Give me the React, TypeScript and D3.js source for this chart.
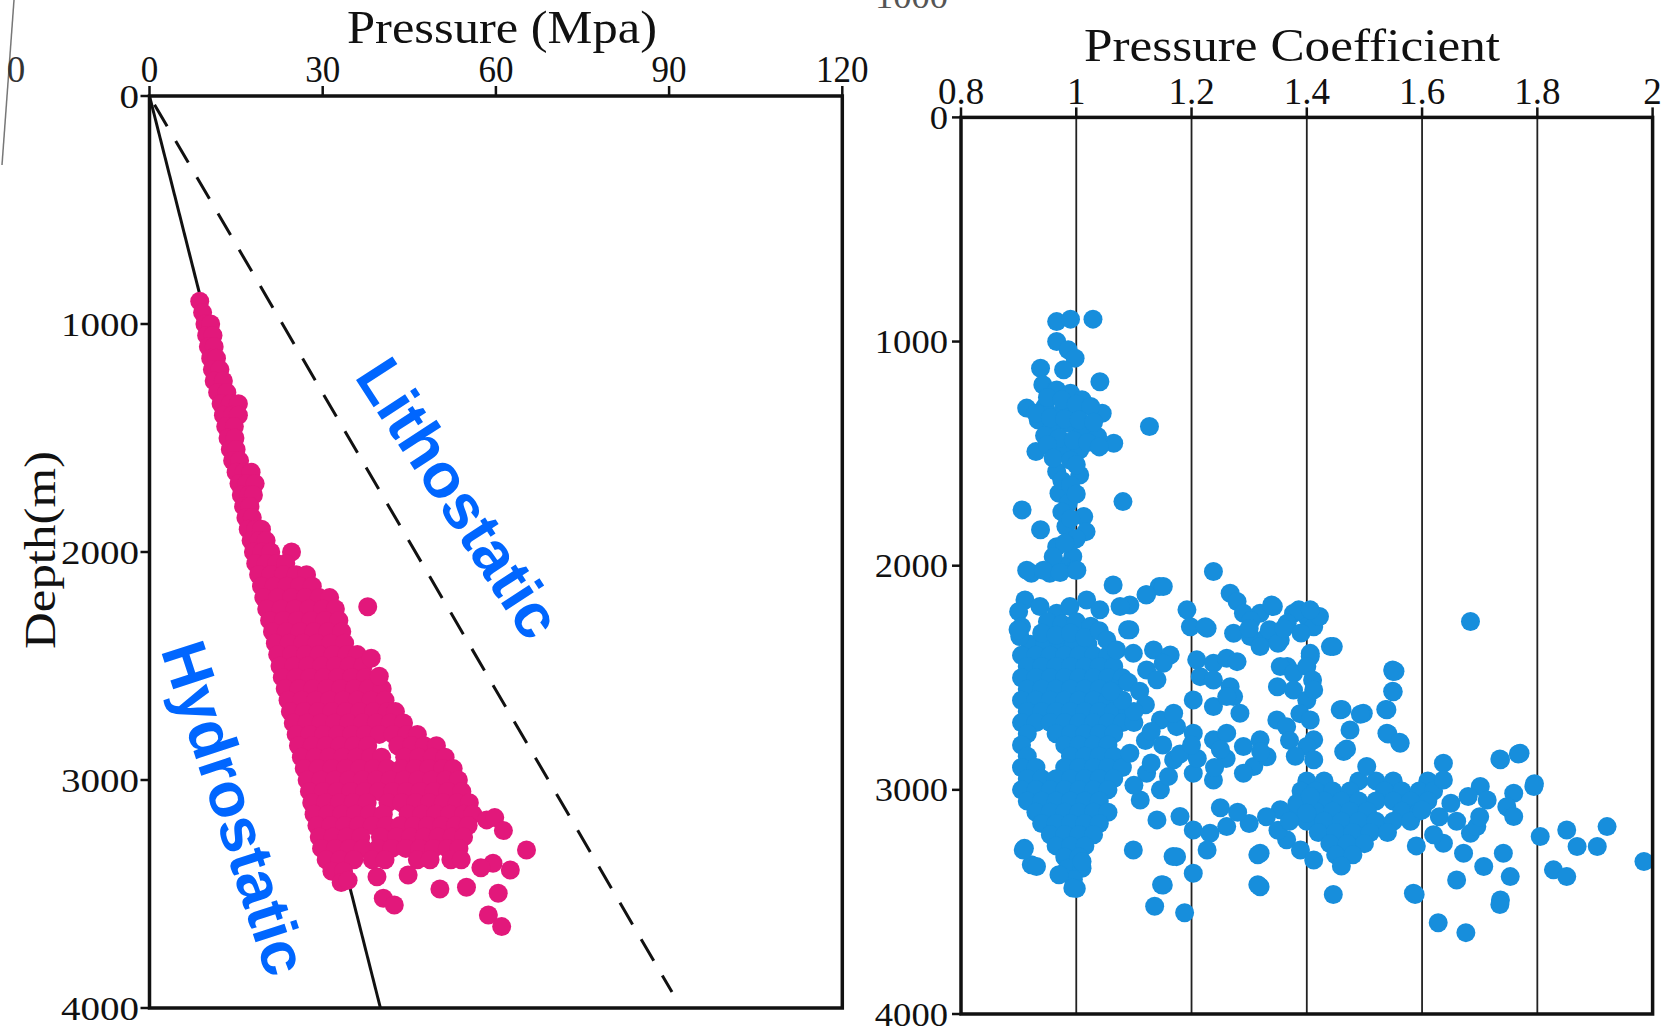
import React from "react";
import * as d3 from "d3";

// axis ticks
const pressureTicks = [0, 30, 60, 90, 120];
const depthTicks = [0, 1000, 2000, 3000, 4000];
const coefTicks = [0.8, 1, 1.2, 1.4, 1.6, 1.8, 2];
const coefGrid = [1, 1.2, 1.4, 1.6, 1.8];

// gradient lines [pressure MPa, depth m]
const hydrostatic: [number, number][] = [[0, 0], [40, 4000]];
const lithostatic: [number, number][] = [[0, 0], [90.5, 3930]];

// left panel: depth -> pressures read along each depth row
const pressureRows: [number, number[]][] = [
  [900, [8.7]],
  [950, [9.2]],
  [1000, [9.6, 10.6]],
  [1050, [9.9, 11.0]],
  [1100, [10.2, 11.2]],
  [1150, [10.6, 11.6]],
  [1200, [10.9, 12.2]],
  [1250, [11.2, 12.8]],
  [1300, [11.8, 13.4]],
  [1350, [12.4, 14.0, 15.4]],
  [1400, [12.8, 14.4, 15.4]],
  [1450, [13.2, 14.7]],
  [1500, [13.6, 14.8]],
  [1550, [14.0, 15.0]],
  [1600, [14.4, 15.6]],
  [1650, [15.0, 16.4, 17.6]],
  [1700, [15.5, 16.8, 18.3]],
  [1750, [15.9, 17.2, 18.0]],
  [1800, [16.3, 17.4]],
  [1850, [16.7, 17.8]],
  [1900, [17.1, 18.4, 19.4]],
  [1950, [17.6, 19.0, 20.2]],
  [2000, [18.0, 19.5, 21.0, 24.6]],
  [2050, [18.4, 20.2, 22.0, 23.6]],
  [2100, [18.9, 21.0, 23.2, 25.4, 27.2]],
  [2150, [19.4, 21.6, 23.8, 26.0, 28.2]],
  [2200, [19.8, 22.2, 24.6, 27.0, 29.4, 31.2]],
  [2250, [20.3, 22.8, 25.2, 27.6, 30.0, 32.2]],
  [2300, [20.8, 23.2, 25.6, 28.0, 30.4, 32.8]],
  [2350, [21.3, 23.7, 26.1, 28.5, 30.9, 33.3]],
  [2400, [21.8, 24.2, 26.6, 29.0, 31.4, 33.8]],
  [2450, [22.2, 24.6, 27.0, 29.4, 31.8, 34.2, 36.0]],
  [2500, [22.6, 25.0, 27.4, 29.8, 32.2, 34.6, 37.0]],
  [2550, [23.0, 25.4, 27.8, 30.2, 32.6, 35.0, 37.4]],
  [2600, [23.5, 25.9, 28.3, 30.7, 33.1, 35.5, 37.9, 40.3]],
  [2650, [24.0, 26.4, 28.8, 31.2, 33.6, 36.0, 38.4, 40.8]],
  [2700, [24.4, 26.8, 29.2, 31.6, 34.0, 36.4, 38.8, 41.2, 42.6]],
  [2750, [24.9, 27.3, 29.7, 32.1, 34.5, 36.9, 39.3, 41.7, 44.0]],
  [2800, [25.4, 27.8, 30.2, 32.6, 35.0, 37.4, 39.8, 42.2, 44.6, 46.4]],
  [2850, [25.8, 28.2, 30.6, 33.0, 35.4, 37.8, 43.0, 45.4, 47.6, 49.7]],
  [2900, [26.3, 28.7, 31.1, 33.5, 35.9, 38.3, 40.2, 44.2, 46.6, 49.0, 51.2]],
  [2950, [26.8, 29.2, 31.6, 34.0, 36.4, 38.8, 41.2, 43.6, 46.0, 48.4, 50.8, 52.6]],
  [3000, [27.3, 29.7, 32.1, 34.5, 36.9, 39.3, 41.7, 44.1, 46.5, 48.9, 51.3, 53.5]],
  [3050, [27.7, 30.1, 32.5, 34.9, 37.3, 39.7, 42.1, 44.5, 46.9, 49.3, 51.7, 54.1]],
  [3100, [28.1, 30.5, 32.9, 35.3, 37.7, 41.3, 43.7, 46.1, 48.5, 50.9, 53.3, 55.4]],
  [3150, [28.5, 30.9, 33.3, 35.7, 38.1, 40.5, 44.8, 47.2, 49.6, 52.0, 54.4, 56.0]],
  [3200, [29.0, 31.4, 33.8, 36.2, 38.6, 41.0, 43.4, 45.8, 48.2, 50.6, 53.0, 55.2]],
  [3250, [29.4, 31.8, 34.2, 36.6, 40.0, 42.8, 45.2, 47.6, 50.0, 52.4, 54.4]],
  [3300, [29.8, 32.2, 34.6, 37.0, 39.6, 42.0, 44.4, 46.8, 49.2, 51.6, 53.6]],
  [3350, [30.6, 33.0, 35.4, 38.6, 40.8, 46.4, 48.6, 52.2, 54.0]],
  [3400, [31.6, 33.6]],
  [3450, [33.2]],
];

// left panel: scattered points [pressure, depth]
const pressureLoose: [number, number][] = [
  [37.8, 2240], [38.4, 2466], [39.8, 2545], [58.4, 3175], [59.8, 3165],
  [61.3, 3222], [65.3, 3307], [59.5, 3365], [62.5, 3395], [57.4, 3385],
  [39.4, 3424], [44.8, 3417], [50.3, 3478], [54.9, 3470], [40.5, 3519],
  [42.4, 3548], [60.4, 3497], [58.7, 3592], [61.0, 3643], [34.4, 3440],
];

// right panel: dense rows, depth -> coefficients
const coefRows: [number, number[]][] = [
  [2350, [0.92, 0.945, 0.97, 0.995, 1.02]],
  [2400, [0.905, 0.93, 0.955, 0.98, 1.005, 1.03, 1.055]],
  [2450, [0.915, 0.94, 0.965, 0.99, 1.015, 1.04, 1.065]],
  [2500, [0.905, 0.93, 0.955, 0.98, 1.005, 1.03, 1.055, 1.08]],
  [2550, [0.915, 0.94, 0.965, 0.99, 1.015, 1.04, 1.065]],
  [2600, [0.905, 0.93, 0.955, 0.98, 1.005, 1.03, 1.055, 1.08]],
  [2650, [0.915, 0.94, 0.965, 0.99, 1.015, 1.04, 1.065, 1.09]],
  [2700, [0.905, 0.93, 0.955, 0.98, 1.005, 1.03, 1.055, 1.08]],
  [2750, [0.915, 0.965, 0.99, 1.015, 1.04, 1.065]],
  [2800, [0.905, 0.98, 1.005, 1.03, 1.055]],
  [2850, [0.915, 0.99, 1.015, 1.04, 1.065]],
  [2900, [0.905, 0.93, 0.98, 1.005, 1.03, 1.055, 1.08]],
  [2950, [0.915, 0.94, 0.965, 0.99, 1.015, 1.04, 1.065]],
  [3000, [0.905, 0.93, 0.955, 0.98, 1.005, 1.03, 1.055]],
  [3050, [0.915, 0.94, 0.965, 0.99, 1.015, 1.04]],
  [3100, [0.93, 0.955, 0.98, 1.005, 1.03, 1.055]],
  [3150, [0.94, 0.965, 0.99, 1.015, 1.04]],
  [3200, [0.955, 0.98, 1.005, 1.03]],
  [3250, [0.965, 0.99, 1.015]],
  [3300, [0.98, 1.005]],
  [3350, [0.985, 1.01]],
  [3400, [0.995]],
  [3440, [1.0]],
  [2960, [1.40, 1.43, 1.49, 1.52, 1.55, 1.61]],
  [3005, [1.39, 1.415, 1.445, 1.475, 1.535, 1.565, 1.595, 1.62]],
  [3050, [1.40, 1.43, 1.46, 1.49, 1.52, 1.55, 1.58, 1.61]],
  [3095, [1.38, 1.415, 1.445, 1.475, 1.505, 1.565, 1.595]],
  [3140, [1.40, 1.43, 1.46, 1.49, 1.52, 1.55, 1.58]],
  [3190, [1.42, 1.45, 1.48, 1.51, 1.54]],
  [3240, [1.44, 1.47, 1.50]],
  [3290, [1.45, 1.48]],
  [3340, [1.46]],
];

// right panel: scattered points [coefficient, depth]
const coefLoose: [number, number][] = [
  [0.966, 911], [0.990, 900], [1.029, 900], [0.966, 1000], [0.986, 1037],
  [0.998, 1074], [0.938, 1119], [0.978, 1126], [1.041, 1179], [0.942, 1193],
  [0.966, 1216], [0.990, 1231], [1.010, 1260], [0.914, 1297], [0.946, 1290],
  [0.974, 1320], [1.002, 1312], [1.045, 1320], [1.127, 1379], [0.934, 1350],
  [0.958, 1387], [0.986, 1364], [1.010, 1409], [1.037, 1424], [1.065, 1454],
  [0.930, 1491], [0.978, 1476], [1.006, 1483], [0.966, 1580], [1.006, 1595],
  [0.970, 1677], [0.986, 1721], [1.081, 1714], [0.906, 1751], [1.013, 1781],
  [0.938, 1840], [0.982, 1825], [1.017, 1848], [0.966, 1915], [0.994, 1959],
  [0.978, 2004], [0.922, 2034], [0.954, 2034], [0.998, 2019],
  [0.95, 1250], [0.975, 1260], [1.0, 1280], [1.025, 1290], [0.93, 1320],
  [0.955, 1340], [0.98, 1345], [1.005, 1350], [1.03, 1360], [0.945, 1420],
  [0.97, 1430], [0.995, 1440], [1.02, 1450], [0.95, 1460], [1.04, 1470],
  [0.96, 1520], [0.99, 1530], [1.0, 1550], [0.975, 1620], [0.99, 1640],
  [1.0, 1680], [0.975, 1760], [0.99, 1790], [1.0, 1880], [0.98, 1900], [0.96, 1960],
  [0.914, 2020], [0.943, 2020], [0.972, 2030], [1.001, 2020], [1.064, 2086],
  [1.144, 2093], [1.238, 2026], [1.151, 2093], [1.122, 2130], [1.093, 2175],
  [1.076, 2182], [1.267, 2123], [1.279, 2160], [0.911, 2153], [0.900, 2205],
  [0.905, 2272], [0.902, 2316], [0.937, 2182], [0.966, 2212], [0.989, 2182],
  [1.018, 2153], [1.041, 2197], [0.95, 2250], [0.975, 2260], [1.0, 2250],
  [1.025, 2270], [0.94, 2300], [0.965, 2310], [0.99, 2300], [1.015, 2320],
  [1.04, 2290], [1.093, 2286], [1.192, 2197], [1.198, 2272], [1.227, 2279],
  [1.053, 2331], [1.070, 2376], [1.099, 2391], [1.134, 2376], [1.163, 2398],
  [1.122, 2465], [1.151, 2435], [1.140, 2509], [1.209, 2420], [1.238, 2435],
  [1.261, 2413], [1.279, 2428], [1.215, 2495], [1.238, 2510], [1.267, 2540],
  [1.273, 2584], [1.121, 2130], [1.224, 2272], [1.089, 2286], [0.899, 2286],
  [1.290, 2212], [1.319, 2212], [1.342, 2182], [1.377, 2212], [1.400, 2227],
  [1.412, 2272], [1.273, 2301], [1.302, 2316], [1.331, 2316], [1.354, 2331],
  [1.339, 2175], [1.386, 2197], [1.422, 2227], [1.406, 2197], [1.441, 2361],
  [1.406, 2391], [1.366, 2257], [1.335, 2286], [1.303, 2245], [1.350, 2346],
  [1.319, 2361], [1.36, 2280], [1.39, 2300], [1.30, 2280], [1.446, 2361],
  [1.406, 2405], [1.366, 2450], [1.549, 2465], [1.684, 2249],
  [1.354, 2450], [1.377, 2480], [1.400, 2450], [1.349, 2540], [1.377, 2555],
  [1.400, 2600], [1.388, 2660], [1.41, 2510],
  [1.550, 2472], [1.550, 2562], [1.539, 2643], [1.458, 2643], [1.498, 2658],
  [1.475, 2733], [1.539, 2747], [1.562, 2792], [1.464, 2829], [1.504, 2896],
  [1.406, 2688], [1.412, 2777], [1.412, 2554],
  [1.093, 2837], [1.146, 2688], [1.174, 2718], [1.203, 2747], [1.238, 2777],
  [1.261, 2747], [1.290, 2807], [1.319, 2777], [1.348, 2688], [1.365, 2718],
  [1.400, 2807], [1.412, 2866], [1.308, 2896], [1.331, 2852], [1.203, 2926],
  [1.238, 2956], [1.290, 2926], [1.169, 2866], [1.122, 2926], [1.146, 3000],
  [1.111, 3045], [1.12, 2780], [1.15, 2800], [1.18, 2840], [1.21, 2860],
  [1.26, 2860], [1.1, 2700], [1.13, 2740], [1.25, 2820], [1.2, 2800],
  [1.32, 2830], [1.37, 2780], [1.38, 2850], [1.24, 2900], [1.16, 2940],
  [1.1, 2980], [1.13, 2880],
  [1.09, 2520], [1.11, 2560], [1.12, 2620], [1.1, 2650], [1.08, 2600],
  [1.06, 2560], [1.169, 2658], [1.203, 2599], [1.238, 2628], [1.261, 2584],
  [1.284, 2658],
  [1.180, 3119], [1.203, 3179], [1.232, 3194], [1.261, 3164], [1.227, 3268],
  [1.174, 3298], [1.203, 3372], [1.319, 3283], [1.319, 3432], [1.354, 3089],
  [1.383, 3060], [1.406, 3030], [1.400, 3104], [1.365, 3223], [1.389, 3268],
  [1.412, 3313], [1.140, 3134], [1.099, 3268], [1.151, 3424], [1.3, 3150],
  [1.33, 3120], [1.28, 3100], [1.25, 3080], [1.35, 3180], [1.37, 3140],
  [1.637, 2881], [1.637, 2956], [1.701, 2985], [1.713, 3045], [1.736, 2866],
  [1.770, 2837], [1.794, 2985], [1.759, 3015], [1.747, 3075], [1.759, 3119],
  [1.637, 3238], [1.684, 3194], [1.695, 3164], [1.672, 3283], [1.660, 3402],
  [1.707, 3342], [1.741, 3283], [1.753, 3387], [1.805, 3208], [1.851, 3179],
  [1.869, 3253], [1.904, 3253], [1.921, 3164], [1.828, 3357], [1.851, 3387],
  [1.985, 3320], [1.585, 3461], [1.736, 3491], [1.628, 3593], [1.676, 3637],
  [1.735, 3512], [1.588, 3467], [1.446, 3467], [1.315, 3423],
  [1.148, 3423], [1.136, 3519], [1.188, 3548], [1.315, 3290], [1.168, 3297],
  [1.553, 2471], [1.549, 2560], [1.537, 2641], [1.541, 2751], [1.561, 2788],
  [1.461, 2641], [1.493, 2663], [1.469, 2818], [1.735, 2862], [1.767, 2840],
  [1.795, 2973], [1.60, 3090], [1.63, 3120], [1.66, 3140], [1.70, 3120],
  [1.65, 3060], [1.68, 3030], [1.62, 3200], [1.59, 3250],
  [0.910, 3261], [0.922, 3334], [0.970, 3379], [0.994, 3438], [1.010, 3320],
  [0.908, 3268], [0.931, 3342],
];

const serif = "'Liberation Serif', 'Times New Roman', serif";
const sans = "'Liberation Sans', Arial, sans-serif";
const blueText = "#0066FF";
const pink = "#E2187B";
const blue = "#178EDC";
const R = 9.5;

const flatten = (rows: [number, number[]][]) =>
  rows.flatMap(([d, vs]) => vs.map(v => [v, d] as [number, number]));

const PressurePanel = () => {
  const x = d3.scaleLinear().domain([0, 120]).range([149.5, 842.3]);
  const y = d3.scaleLinear().domain([0, 4000]).range([96, 1008]);
  const line = d3.line<[number, number]>().x(d => x(d[0])).y(d => y(d[1]));
  const pts = flatten(pressureRows).concat(pressureLoose);
  return (
    <g>
      <path d={line(hydrostatic) || ""} stroke="#111" strokeWidth={3} fill="none" />
      <path d={line(lithostatic) || ""} stroke="#111" strokeWidth={3} fill="none" strokeDasharray="25 17" strokeDashoffset={-10} />
      {pts.map((d, i) => (
        <circle key={i} cx={x(d[0])} cy={y(d[1])} r={R} fill={pink} />
      ))}
      <rect x={x(0)} y={y(0)} width={x(120) - x(0)} height={y(4000) - y(0)} fill="none" stroke="#111" strokeWidth={3.5} />
      {pressureTicks.map(t => (
        <g key={t}>
          <line x1={x(t)} x2={x(t)} y1={y(0)} y2={y(0) - 10} stroke="#111" strokeWidth={2.5} />
          <text x={x(t)} y={82} textAnchor="middle" fontFamily={serif} fontSize={37}
            textLength={String(t).length * 17.5} lengthAdjust="spacingAndGlyphs" fill="#111">{t}</text>
        </g>
      ))}
      {depthTicks.map(t => (
        <g key={t}>
          <line x1={x(0)} x2={x(0) - 9} y1={y(t)} y2={y(t)} stroke="#111" strokeWidth={2.5} />
          <text x={139} y={y(t) + 11.5} textAnchor="end" fontFamily={serif} fontSize={34}
            textLength={String(t).length * 19.5} lengthAdjust="spacingAndGlyphs" fill="#111">{t}</text>
        </g>
      ))}
      <text x={502} y={43} textAnchor="middle" fontFamily={serif} fontSize={47}
        textLength={310} lengthAdjust="spacingAndGlyphs" fill="#111">Pressure (Mpa)</text>
      <text transform="translate(55,550) rotate(-90)" textAnchor="middle" fontFamily={serif} fontSize={44}
        textLength={198} lengthAdjust="spacingAndGlyphs" fill="#111">Depth(m)</text>
      <text transform="translate(459,498) rotate(57)" textAnchor="middle" dominantBaseline="central"
        fontFamily={sans} fontWeight="bold" fontSize={63} fill={blueText}>Lithostatic</text>
      <text transform="translate(235,808) rotate(72)" textAnchor="middle" dominantBaseline="central"
        fontFamily={sans} fontWeight="bold" fontSize={63} fill={blueText}>Hydrostatic</text>
    </g>
  );
};

const CoefficientPanel = () => {
  const x = d3.scaleLinear().domain([0.8, 2]).range([961, 1652.6]);
  const y = d3.scaleLinear().domain([0, 4000]).range([117.4, 1014]);
  const pts = flatten(coefRows).concat(coefLoose);
  const fmt = d3.format("~g");
  return (
    <g>
      {coefGrid.map(t => (
        <line key={t} x1={x(t)} x2={x(t)} y1={y(0)} y2={y(4000)} stroke="#222" strokeWidth={1.8} />
      ))}
      {pts.map((d, i) => (
        <circle key={i} cx={x(d[0])} cy={y(d[1])} r={R} fill={blue} />
      ))}
      <rect x={x(0.8)} y={y(0)} width={x(2) - x(0.8)} height={y(4000) - y(0)} fill="none" stroke="#111" strokeWidth={3.5} />
      {coefTicks.map(t => (
        <g key={t}>
          <line x1={x(t)} x2={x(t)} y1={y(0)} y2={y(0) - 10} stroke="#111" strokeWidth={2.5} />
          <text x={x(t)} y={103.5} textAnchor="middle" fontFamily={serif} fontSize={37} fill="#111">{fmt(t)}</text>
        </g>
      ))}
      {depthTicks.map(t => (
        <g key={t}>
          <line x1={x(0.8)} x2={x(0.8) - 9} y1={y(t)} y2={y(t)} stroke="#111" strokeWidth={2.5} />
          <text x={948} y={y(t) + 11.5} textAnchor="end" fontFamily={serif} fontSize={34}
            textLength={String(t).length * 18.3} lengthAdjust="spacingAndGlyphs" fill="#111">{t}</text>
        </g>
      ))}
      <text x={1292} y={61} textAnchor="middle" fontFamily={serif} fontSize={47}
        textLength={416} lengthAdjust="spacingAndGlyphs" fill="#111">Pressure Coefficient</text>
    </g>
  );
};

export default function App() {
  return (
    <svg width={1674} height={1029} style={{ position: "absolute", left: 0, top: 0, background: "#fff" }}>
      <rect width={1674} height={1029} fill="#fff" />
      <line x1={14} y1={0} x2={2} y2={165} stroke="#777" strokeWidth={1.5} />
      <text x={16} y={82} textAnchor="middle" fontFamily={serif} fontSize={37} fill="#333">0</text>
      <text x={948} y={8} textAnchor="end" fontFamily={serif} fontSize={34} fill="#555"
        textLength={73} lengthAdjust="spacingAndGlyphs">1000</text>
      <PressurePanel />
      <CoefficientPanel />
    </svg>
  );
}
